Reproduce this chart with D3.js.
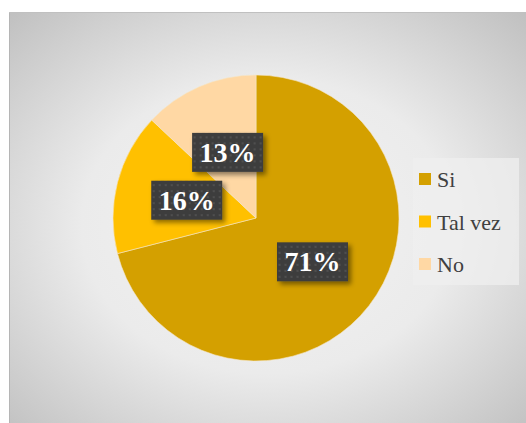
<!DOCTYPE html>
<html><head><meta charset="utf-8">
<script src="https://cdn.jsdelivr.net/npm/d3@7"></script>
</head><body style="margin:0;padding:0">
<script>
const categories = ["Si", "Tal vez", "No"];
const values = [71, 16, 13];
const labels = ["71%", "16%", "13%"];
const colors = ["#D4A000", "#FFC000", "#FFD8A4"];

const W = 526, H = 423;
const svg = d3.select("body").append("svg").attr("width", W).attr("height", H)
  .style("display", "block");
const defs = svg.append("defs");

const bg = defs.append("radialGradient").attr("id", "bg")
  .attr("cx", 0.5).attr("cy", 0.52).attr("r", 0.72);
bg.append("stop").attr("offset", 0).attr("stop-color", "#f3f3f3");
bg.append("stop").attr("offset", 0.5).attr("stop-color", "#ebebeb");
bg.append("stop").attr("offset", 1).attr("stop-color", "#c0c0c0");

const pat = defs.append("pattern").attr("id", "dots").attr("patternUnits", "userSpaceOnUse")
  .attr("width", 6).attr("height", 6);
pat.append("rect").attr("width", 6).attr("height", 6).attr("fill", "#3d3d3d");
pat.append("circle").attr("cx", 3).attr("cy", 3).attr("r", 1.1).attr("fill", "#555555");

const sh = defs.append("filter").attr("id", "shadow").attr("x", "-20%").attr("y", "-20%").attr("width", "150%").attr("height", "160%");
sh.append("feDropShadow").attr("dx", 3).attr("dy", 3).attr("stdDeviation", 2.5)
  .attr("flood-color", "#000").attr("flood-opacity", 0.45);

// chart area
svg.append("rect").attr("x", 9).attr("y", 12).attr("width", W - 9).attr("height", H - 12)
  .attr("fill", "url(#bg)");
svg.append("line").attr("x1", 9.5).attr("x2", 9.5).attr("y1", 12).attr("y2", H)
  .attr("stroke", "#b5b5b5").attr("stroke-width", 1);
svg.append("line").attr("x1", 9).attr("x2", W).attr("y1", 12.5).attr("y2", 12.5)
  .attr("stroke", "#c0c0c0").attr("stroke-width", 1);

const cx = 256, cy = 218, R = 143;
const pie = d3.pie().value(d => d).sort(null);
const arc = d3.arc().innerRadius(0).outerRadius(R);
const arcs = pie(values);

const g = svg.append("g").attr("transform", `translate(${cx},${cy})`);
g.selectAll("path").data(arcs).join("path")
  .attr("d", arc)
  .attr("fill", (d, i) => colors[i])
  .attr("stroke", "#f5e6c8").attr("stroke-width", 0.6);

const bw = 71, bh = 39;
const lab = g.selectAll("g.lab").data(arcs).join("g").attr("class", "lab")
  .attr("transform", d => { const c = arc.centroid(d); return `translate(${c[0]},${c[1]})`; });
lab.append("rect").attr("x", -bw / 2).attr("y", -bh / 2).attr("width", bw).attr("height", bh)
  .attr("fill", "url(#dots)").attr("filter", "url(#shadow)");
lab.append("text").text((d, i) => labels[i])
  .attr("text-anchor", "middle").attr("y", 9.5)
  .attr("font-family", "Times New Roman, Liberation Serif, serif")
  .attr("font-weight", "bold").attr("font-size", 28).attr("fill", "#ffffff");

// legend
const leg = svg.append("g");
leg.append("rect").attr("x", 413).attr("y", 158).attr("width", 106).attr("height", 127)
  .attr("fill", "#efefef").attr("opacity", 0.75);
const li = leg.selectAll("g.li").data(categories).join("g").attr("class", "li")
  .attr("transform", (d, i) => `translate(419,${173 + i * 42.5})`);
li.append("rect").attr("width", 12).attr("height", 12).attr("fill", (d, i) => colors[i]);
li.append("text").text(d => d).attr("x", 18).attr("y", 14)
  .attr("font-family", "Times New Roman, Liberation Serif, serif")
  .attr("font-size", 22).attr("fill", "#404040");
</script>
</body></html>
